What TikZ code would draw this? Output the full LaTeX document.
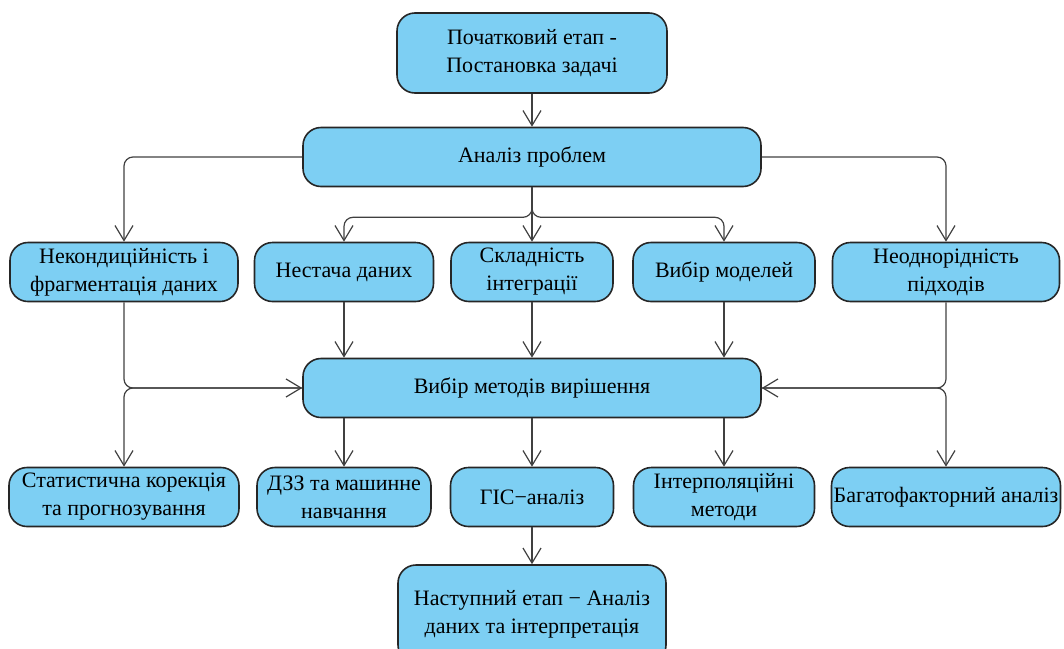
\documentclass[tikz,border=0pt]{standalone}
\usepackage{fontspec}
\setmainfont{Liberation Serif}
\usetikzlibrary{arrows.meta}
\definecolor{boxblue}{RGB}{125,207,243}

\begin{document}
\begin{tikzpicture}[x=1pt, y=-1pt,
  box/.style={rectangle, draw=black!85, line width=1.6pt, rounded corners=18pt, fill=boxblue, align=center, inner sep=0pt, minimum height=59pt, font=\fontsize{22}{28}\selectfont},
  arrow/.style={-{Straight Barb[length=15pt,width=18pt]}, line width=1.2pt, draw=black!75, rounded corners=9pt}
]
\path[use as bounding box, clip] (0,0) rectangle (1064,648);

\node[box, minimum width=270pt, minimum height=80pt] (start) at (532,53) {Початковий етап -\\Постановка задачі};
\node[box, minimum width=458pt] (problems) at (532,157) {Аналіз проблем};

\node[box, minimum width=228pt] (defect) at (124,272) {Некондиційність і\\фрагментація даних};
\node[box, minimum width=179pt] (lack) at (344,272) {Нестача даних};
\node[box, minimum width=162pt] (integr) at (532,272) {Складність\\інтеграції};
\node[box, minimum width=182pt] (models) at (724,272) {Вибір моделей};
\node[box, minimum width=227pt] (hetero) at (946,272) {Неоднорідність\\підходів};

\node[box, minimum width=458pt] (methods) at (532,388) {Вибір методів вирішення};

\node[box, minimum width=230pt] (stat) at (124,497) {Статистична корекція\\та прогнозування};
\node[box, minimum width=174pt] (rs) at (344,497) {ДЗЗ та машинне\\навчання};
\node[box, minimum width=163pt] (gis) at (532,497) {ГІС−аналіз};
\node[box, minimum width=181pt] (interp) at (724,497) {Інтерполяційні\\методи};
\node[box, minimum width=229pt] (multi) at (946,497) {Багатофакторний аналіз};

\node[box, minimum width=268pt, minimum height=98pt] (next) at (532,614) {Наступний етап − Аналіз\\даних та інтерпретація};

\draw[arrow] (start) -- (problems);
\draw[arrow] (problems.west) -| (defect.north);
\draw[arrow] (problems.east) -| (hetero.north);
\draw[arrow] (problems.south) -- ++(0,30) -| (lack.north);
\draw[arrow] (problems.south) -- (integr.north);
\draw[arrow] (problems.south) -- ++(0,30) -| (models.north);

\draw[arrow] (defect.south) |- (methods.west);
\draw[arrow] (lack.south) -- (lack.south |- methods.north);
\draw[arrow] (integr) -- (methods);
\draw[arrow] (models.south) -- (models.south |- methods.north);
\draw[arrow] (hetero.south) |- (methods.east);

\draw[arrow] (methods.west) -| (stat.north);
\draw[arrow] (methods.south -| rs.north) -- (rs.north);
\draw[arrow] (methods) -- (gis);
\draw[arrow] (methods.south -| interp.north) -- (interp.north);
\draw[arrow] (methods.east) -| (multi.north);
\draw[arrow] (gis) -- (next);
\end{tikzpicture}
\end{document}
